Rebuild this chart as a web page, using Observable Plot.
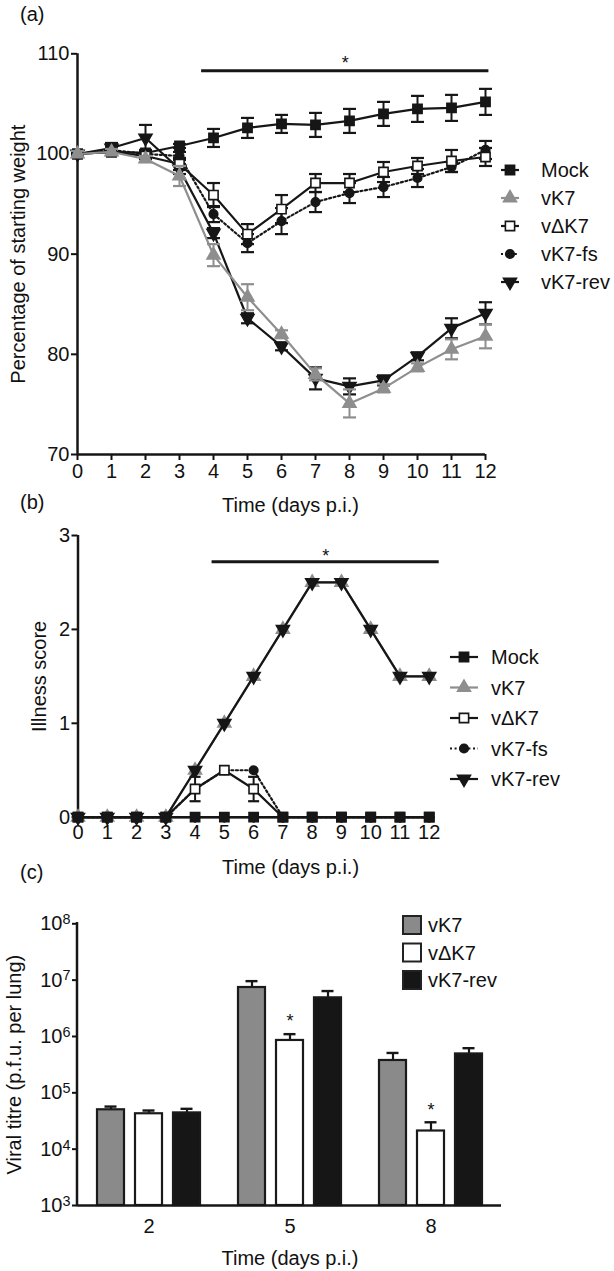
<!DOCTYPE html>
<html><head><meta charset="utf-8">
<script src="https://cdn.jsdelivr.net/npm/d3@7"></script>
<script src="https://cdn.jsdelivr.net/npm/@observablehq/plot@0.6"></script>
<style>
body{margin:0;background:#fff;}
#wrap{position:relative;width:614px;height:1271px;overflow:hidden;font-family:"Liberation Sans",Arial,sans-serif;color:#111;}
.panel{position:absolute;left:0;}
.lab{position:absolute;font-size:20px;line-height:20px;}
</style></head><body>
<div id="wrap">
  <div class="lab" style="left:20px;top:4px">(a)</div>
  <div class="lab" style="left:20px;top:492px">(b)</div>
  <div class="lab" style="left:20px;top:862px">(c)</div>
</div>
<script>
// ---------- DATA ----------
const days = [0,1,2,3,4,5,6,7,8,9,10,11,12];
const seriesNames = ["Mock","vK7","vΔK7","vK7-fs","vK7-rev"];

// (a) percentage of starting weight (mean, SEM)
const wMock    = [100,100.2,100.1,100.8,101.6,102.6,103.0,102.9,103.3,104.0,104.5,104.6,105.2];
const wMockErr = [0.2,0.3,0.3,0.2,0.9,1.0,0.9,1.2,1.2,1.2,1.3,1.3,1.3];
const wK7      = [100,100.2,99.5,97.8,89.9,85.7,82.0,78.0,75.1,76.6,78.7,80.5,81.8];
const wK7Err   = [0.3,0.3,0.3,1.0,1.1,1.3,0.4,0.6,1.4,0.4,0.4,1.0,1.2];
const wDK7     = [100,100.2,99.8,99.0,95.9,92.0,94.5,97.1,97.1,98.2,98.8,99.3,99.7];
const wDK7Err  = [0.2,0.3,0.3,0.6,1.2,1.0,1.4,0.9,0.9,1.0,0.8,1.1,0.9];
const wFs      = [100,100.4,100.0,99.8,94.0,91.1,93.3,95.2,96.1,96.7,97.6,98.7,100.4];
const wFsErr   = [0.2,0.3,0.3,0.4,0.8,0.9,1.3,1.0,1.0,1.0,0.9,0.5,0.9];
const wRev     = [100,100.6,101.6,98.5,92.1,83.6,80.8,77.6,76.8,77.4,79.8,82.6,84.1];
const wRevErr  = [0.3,0.5,1.3,0.5,0.5,0.5,0.4,1.1,0.8,0.5,0.4,1.0,1.1];
const yTicksA  = [70,80,90,100,110];
const sigA     = [{start:3.65, end:12.1, level:108.3}];

// (b) illness score
const iMock    = [0,0,0,0,0,0,0,0,0,0,0,0,0];
const iK7      = [0,0,0,0,0.5,1,1.5,2,2.5,2.5,2,1.5,1.5];
const iDK7     = [0,0,0,0,0.3,0.5,0.3,0,0,0,0,0,0];
const iDK7Err  = [0,0,0,0,0.13,0,0.13,0,0,0,0,0,0];
const iFs      = [0,0,0,0,0.3,0.5,0.5,0,0,0,0,0,0];
const iRev     = [0,0,0,0,0.5,1,1.5,2,2.5,2.5,2,1.5,1.5];
const yTicksB  = [0,1,2,3];
const sigB     = [{start:4.58, end:12.34, level:2.72}];

// (c) viral titre
const titreDays   = ["2","5","8"];
const titreSeries = ["vK7","vΔK7","vK7-rev"];
const tK7      = [5.0e4, 7.4e6, 3.75e5];
const tK7Err   = [0.7e4, 2.2e6, 1.35e5];
const tDK7     = [4.25e4, 8.5e5, 2.1e4];
const tDK7Err  = [0.6e4, 2.5e5, 0.9e4];
const tRev     = [4.4e4, 4.85e6, 4.9e5];
const tRevErr  = [0.8e4, 1.55e6, 1.3e5];
const titreStars = [{day:"5", series:"vΔK7"}, {day:"8", series:"vΔK7"}];
const yTicksC  = [1e3,1e4,1e5,1e6,1e7,1e8];

// ---------- STYLE ----------
const FONT = '"Liberation Sans", Arial, sans-serif';
const BLACK = "#161616", GRAY = "#8e8e8e";
const styles = {
  "Mock":    {color:BLACK, symbol:"square",   fill:BLACK,  r:5.2, rotate:0},
  "vK7":     {color:GRAY,  symbol:"triangle", fill:GRAY,   r:4.8, rotate:0},
  "vΔK7":    {color:BLACK, symbol:"square",   fill:"#fff", r:5.2, rotate:0},
  "vK7-fs":  {color:BLACK, symbol:"circle",   fill:BLACK,  r:4.3, rotate:0, dash:"2,2.6"},
  "vK7-rev": {color:BLACK, symbol:"triangle", fill:BLACK,  r:4.8, rotate:180}
};
const capSymbol = {draw(ctx, size){ const w = Math.sqrt(size/Math.PI); ctx.moveTo(-w,0); ctx.lineTo(w,0); }};

function toRows(name, vals, errs){
  return days.map((d,i)=>({series:name, day:d, value:vals[i], err: errs ? errs[i] : 0}));
}
function seriesMarks(rows, st, capR){
  const eb = rows.filter(d=>d.err>0);
  return [
    Plot.ruleX(eb, {x:"day", y1:d=>d.value-d.err, y2:d=>d.value+d.err, stroke:st.color, strokeWidth:2}),
    Plot.dot(eb, {x:"day", y:d=>d.value+d.err, symbol:capSymbol, r:capR, stroke:st.color, strokeWidth:2.2, fill:"none"}),
    Plot.dot(eb, {x:"day", y:d=>d.value-d.err, symbol:capSymbol, r:capR, stroke:st.color, strokeWidth:2.2, fill:"none"}),
    Plot.line(rows, {x:"day", y:"value", stroke:st.color, strokeWidth:2.2, strokeDasharray:st.dash}),
    Plot.dot(rows, {x:"day", y:"value", symbol:st.symbol, r:st.r, fill:st.fill, stroke:st.color, strokeWidth:1.6, rotate:st.rotate})
  ];
}
function addLineLegend(svg, o){
  const g = d3.select(svg).append("g").attr("font-size",20).attr("font-family",FONT).attr("fill","#111").attr("text-anchor","start");
  seriesNames.forEach((name,i)=>{
    const st = styles[name], y = o.y0 + i*o.step, cx = (o.x0+o.x1)/2;
    g.append("line").attr("x1",o.x0).attr("x2",o.x1).attr("y1",y).attr("y2",y)
      .attr("stroke",st.color).attr("stroke-width",2.2).attr("stroke-dasharray",st.dash||null);
    const type = {square:d3.symbolSquare, triangle:d3.symbolTriangle, circle:d3.symbolCircle}[st.symbol];
    g.append("path").attr("d", d3.symbol(type, Math.PI*st.r*st.r)())
      .attr("transform",`translate(${cx},${y}) rotate(${st.rotate})`)
      .attr("fill",st.fill).attr("stroke",st.color).attr("stroke-width",1.6);
    g.append("text").attr("x",o.xt).attr("y",y).attr("dy","0.36em").text(name);
  });
}
const wrap = document.getElementById("wrap");
function place(svg, top){
  svg.classList.add("panel"); svg.style.top = top+"px"; svg.style.overflow = "visible";
  wrap.appendChild(svg);
}
const plotStyle = {fontFamily:FONT, color:"#111", background:"transparent", overflow:"visible"};

// ---------- PANEL A ----------
const rowsA = {
  "Mock": toRows("Mock", wMock, wMockErr),
  "vK7": toRows("vK7", wK7, wK7Err),
  "vΔK7": toRows("vΔK7", wDK7, wDK7Err),
  "vK7-fs": toRows("vK7-fs", wFs, wFsErr),
  "vK7-rev": toRows("vK7-rev", wRev, wRevErr)
};
const orderA = ["Mock","vK7-rev","vK7-fs","vΔK7","vK7"];
const svgA = Plot.plot({
  width:614, height:520, marginLeft:77, marginRight:129, marginTop:53.3, marginBottom:66,
  x:{domain:[0,12]}, y:{domain:[70,110]},
  style: plotStyle,
  marks:[
    Plot.axisX({ticks:days, tickSize:6, tickPadding:3, fontSize:20, label:null, strokeWidth:2}),
    Plot.axisY({ticks:yTicksA, tickSize:6, tickPadding:2, fontSize:20, label:null, strokeWidth:2}),
    Plot.ruleY([70], {strokeWidth:2.5, stroke:BLACK}),
    Plot.ruleX([0], {strokeWidth:2.5, stroke:BLACK}),
    Plot.text(["Percentage of starting weight"], {frameAnchor:"left", rotate:-90, dx:-59, fontSize:20, textAnchor:"middle", lineAnchor:"middle"}),
    Plot.text(["Time (days p.i.)"], {frameAnchor:"bottom", dy:51, dx:9, fontSize:20, textAnchor:"middle", lineAnchor:"middle"}),
    Plot.ruleY(sigA, {x1:"start", x2:"end", y:"level", strokeWidth:3, stroke:BLACK}),
    Plot.text(sigA, {x:d=>(d.start+d.end)/2, y:"level", text:()=>"*", dy:-7.5, fontSize:18}),
    ...orderA.flatMap(n=>seriesMarks(rowsA[n], styles[n], 6.5))
  ]
});
place(svgA, 0);
addLineLegend(svgA, {x0:501, x1:519, xt:541, y0:170, step:28});

// ---------- PANEL B ----------
const rowsB = {
  "Mock": toRows("Mock", iMock),
  "vK7": toRows("vK7", iK7),
  "vΔK7": toRows("vΔK7", iDK7, iDK7Err),
  "vK7-fs": toRows("vK7-fs", iFs),
  "vK7-rev": toRows("vK7-rev", iRev)
};
const orderB = ["vK7","vK7-fs","vΔK7","vK7-rev","Mock"];
const svgB = Plot.plot({
  width:614, height:360, marginLeft:77.5, marginRight:179.4, marginTop:15, marginBottom:63.3,
  x:{domain:[0,12.2]}, y:{domain:[0,3]},
  style: plotStyle,
  marks:[
    Plot.axisX({ticks:days, tickSize:6, tickPadding:2, fontSize:20, label:null, strokeWidth:2}),
    Plot.axisY({ticks:yTicksB, tickFormat:"d", tickSize:6, tickPadding:2, fontSize:20, label:null, strokeWidth:2}),
    Plot.ruleY([0], {strokeWidth:2.5, stroke:BLACK}),
    Plot.ruleX([0], {strokeWidth:2.5, stroke:BLACK}),
    Plot.text(["Illness score"], {frameAnchor:"left", rotate:-90, dx:-38.5, fontSize:20, textAnchor:"middle", lineAnchor:"middle"}),
    Plot.text(["Time (days p.i.)"], {frameAnchor:"bottom", dy:50, dx:34, fontSize:20, textAnchor:"middle", lineAnchor:"middle"}),
    Plot.ruleY(sigB, {x1:"start", x2:"end", y:"level", strokeWidth:3, stroke:BLACK}),
    Plot.text(sigB, {x:d=>(d.start+d.end)/2, y:"level", text:()=>"*", dy:-5.5, fontSize:18}),
    ...orderB.flatMap(n=>seriesMarks(rowsB[n], styles[n], 5.5))
  ]
});
place(svgB, 520);
addLineLegend(svgB, {x0:450, x1:478, xt:491, y0:137, step:30.5});

// ---------- PANEL C ----------
const tVals = {"vK7":[tK7,tK7Err], "vΔK7":[tDK7,tDK7Err], "vK7-rev":[tRev,tRevErr]};
const rowsC = titreDays.flatMap((day,i)=>titreSeries.map(s=>({day, series:s, value:tVals[s][0][i], err:tVals[s][1][i]})));
const starsC = titreStars.map(st=>rowsC.find(r=>r.day===st.day && r.series===st.series));
const sup = {3:"³",4:"⁴",5:"⁵",6:"⁶",7:"⁷",8:"⁸"};
const barColors = ["#8a8a8a","#ffffff","#161616"];
const svgC = Plot.plot({
  width:614, height:391, marginLeft:77, marginRight:113, marginTop:43.3, marginBottom:66,
  fx:{domain:titreDays, padding:0},
  x:{domain:titreSeries, paddingInner:0.29, paddingOuter:0.485, axis:null},
  y:{type:"log", domain:[1e3,1e8]},
  color:{domain:titreSeries, range:barColors},
  style: plotStyle,
  marks:[
    Plot.ruleX(rowsC, {fx:"day", x:"series", y1:"value", y2:d=>d.value+d.err, strokeWidth:2.2, stroke:BLACK}),
    Plot.tickY(rowsC, {fx:"day", x:"series", y:d=>d.value+d.err, insetLeft:7.5, insetRight:7.5, strokeWidth:2.4, stroke:BLACK}),
    Plot.barY(rowsC, {fx:"day", x:"series", y1:1000, y2:"value", fill:"series", stroke:"#1a1a1a", strokeWidth:2.2}),
    Plot.ruleY([1000], {strokeWidth:2.5, stroke:BLACK}),
    Plot.axisY({ticks:yTicksC, tickFormat:d=>"10"+sup[Math.round(Math.log10(d))], tickSize:6, tickPadding:2, fontSize:20, label:null, strokeWidth:2}),
    Plot.axisFx({anchor:"bottom", tickSize:0, tickPadding:13, fontSize:20, label:null}),
    Plot.text(starsC, {fx:"day", x:"series", y:d=>d.value+d.err, text:()=>"*", dy:-12.5, fontSize:18}),
    Plot.text([{fx:titreDays[0], t:"Viral titre (p.f.u. per lung)"}], {fx:"fx", text:"t", frameAnchor:"left", rotate:-90, dx:-64, fontSize:20, textAnchor:"middle", lineAnchor:"middle"}),
    Plot.text([{fx:titreDays[1], t:"Time (days p.i.)"}], {fx:"fx", text:"t", frameAnchor:"bottom", dy:53, fontSize:20, textAnchor:"middle", lineAnchor:"middle"})
  ]
});
place(svgC, 880);
// y-axis line (c), positioned from the plot's own y scale
{
  const ys = svgC.scale("y");
  d3.select(svgC).append("line").attr("x1",77).attr("x2",77)
    .attr("y1", ys.apply(yTicksC[yTicksC.length-1])).attr("y2", ys.apply(yTicksC[0]))
    .attr("stroke",BLACK).attr("stroke-width",2.5).attr("stroke-linecap","square");
}
// superscript exponents
d3.select(svgC).selectAll('g[aria-label="y-axis tick label"] text').each(function(){
  const s = this.textContent; const base = s.slice(0,2), exp = s.slice(2);
  const inv = {"³":"3","⁴":"4","⁵":"5","⁶":"6","⁷":"7","⁸":"8"};
  this.textContent = base;
  d3.select(this).append("tspan").attr("dy","-0.42em").attr("font-size","0.72em").text(inv[exp]||exp);
});
// legend (c)
{
  const g = d3.select(svgC).append("g").attr("font-size",20).attr("font-family",FONT).attr("fill","#111").attr("text-anchor","start");
  titreSeries.forEach((s,i)=>{
    const y = 45 + i*27.5;
    g.append("rect").attr("x",403).attr("y",y-9).attr("width",18).attr("height",18)
      .attr("fill",barColors[i]).attr("stroke","#222").attr("stroke-width",2);
    g.append("text").attr("x",428).attr("y",y).attr("dy","0.36em").text(s);
  });
}
</script>
</body></html>
